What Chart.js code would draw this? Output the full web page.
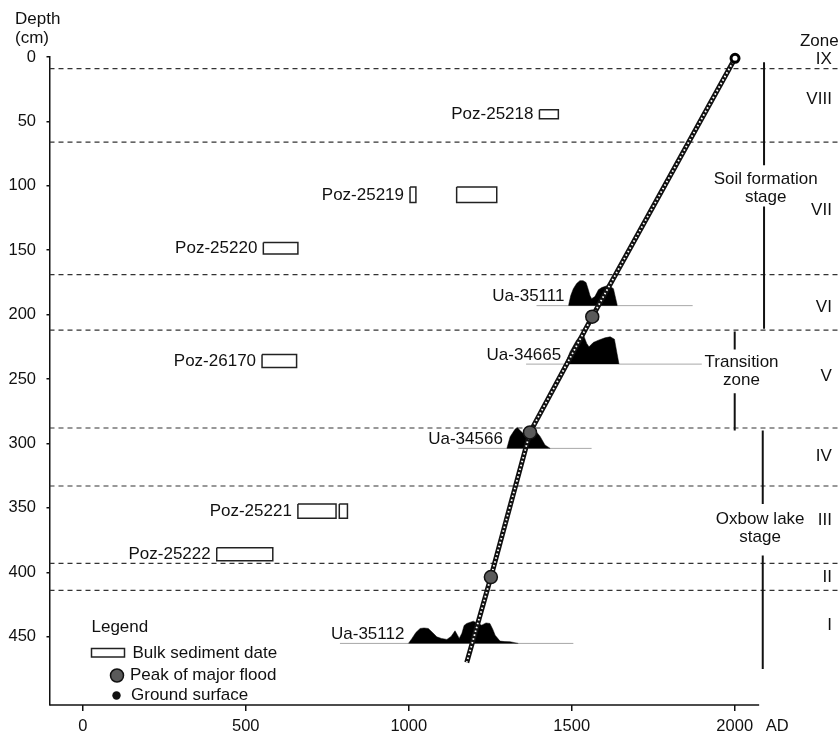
<!DOCTYPE html>
<html>
<head>
<meta charset="utf-8">
<script src="https://cdn.jsdelivr.net/npm/chart.js@4.4.1/dist/chart.umd.min.js"></script>
<style>
  html, body { margin: 0; padding: 0; background: #fff; overflow: hidden; }
  canvas { display: block; }
</style>
</head>
<body>
<canvas id="depthChart" width="840" height="734"></canvas>
<script>
// axes (x = calendar year AD, y = depth in cm)
const X_MIN = -102, X_MAX = 2323, X_AXIS_END = 2075;
const Y_MIN = 0, Y_MAX = 503;
const xTicks = [0, 500, 1000, 1500, 2000];
const xUnitLabel = 'AD', xUnitAt = 2130;
const yTicks = [0, 50, 100, 150, 200, 250, 300, 350, 400, 450];

// zone boundaries and zone names
const zoneBounds = [9, 66, 169, 212, 288, 333, 393, 414];
const zoneNames = ['IX', 'VIII', 'VII', 'VI', 'V', 'IV', 'III', 'II', 'I'];
const zoneCentres = [2, 33, 119, 194, 248, 310, 360, 404, 441];

// stages on the right
const stageNames = [['Soil formation', 'stage'], ['Transition', 'zone'], ['Oxbow lake', 'stage']];
const stageYear = [2090, 2000, 2086];
const stageSpans = [[[4, 84], [116, 211]], [[213, 227], [261, 290]], [[290, 347], [387, 475]]];
const stageTextYear = [2095, 2021, 2078];
const stageTextDepth = [102, 244, 366];

// bulk sediment dates (year ranges, depth top/bottom)
const bulkNames = ['Poz-25218', 'Poz-25219', 'Poz-25220', 'Poz-26170', 'Poz-25221', 'Poz-25222'];
const bulkRanges = [[[1401, 1459]], [[1004, 1022], [1147, 1270]], [[554, 660]], [[550, 656]], [[660, 777], [787, 812]], [[411, 583]]];
const bulkDepths = [[41, 48], [101, 113], [144, 153], [231, 241], [347, 358], [381, 391]];

// calibrated AMS dates: baseline depth, baseline span, probability curve (cm above baseline)
const amsNames = ['Ua-35111', 'Ua-34665', 'Ua-34566', 'Ua-35112'];
const amsBase = [193, 238.4, 303.8, 455.2];
const amsSpan = [[1392, 1871], [1360, 1899], [1152, 1561], [789, 1505]];
const amsYears = [
  [1490, 1497, 1505, 1515, 1525, 1535, 1544, 1551, 1556, 1561, 1571, 1582, 1592, 1601, 1609, 1618, 1628, 1635, 1640],
  [1480, 1495, 1515, 1534, 1546, 1553, 1566, 1582, 1602, 1618, 1631, 1638, 1645],
  [1301, 1311, 1326, 1333, 1344, 1357, 1372, 1387, 1403, 1418, 1434],
  [999, 1010, 1022, 1035, 1047, 1060, 1073, 1086, 1100, 1117, 1130, 1142, 1150, 1155, 1163, 1170, 1178, 1198, 1212, 1224, 1237, 1249, 1258, 1265, 1280, 1295, 1311, 1325, 1336]
];
const amsProb = [
  [0, 7.8, 13.2, 17.1, 19.4, 19.4, 17.9, 12.4, 7.8, 5.4, 7, 12.4, 14, 14.8, 15.5, 14.8, 13.2, 5.4, 0],
  [0, 9.6, 18.6, 23.8, 16.1, 13.4, 16.8, 18.6, 20.4, 21.2, 19.4, 9.6, 0],
  [0, 9, 14.8, 16.3, 13.2, 10.1, 13.2, 14.2, 9.3, 2.6, 0],
  [0, 3.9, 8.5, 11.6, 12, 11.6, 8.5, 5.1, 3.9, 3.1, 5.4, 9.8, 6.2, 3.9, 7.8, 14, 15.5, 17.3, 15.5, 14.2, 15.9, 15.5, 10.9, 6.4, 1.8, 1.4, 1.3, 0.6, 0]
];

// floods, age-depth line, ground surface
const floodYears = [1563, 1372, 1252];
const floodDepths = [201.6, 291.4, 403.7];
const modelYears = [2001, 1563, 1372, 1252, 1178];
const modelDepths = [1, 201.6, 291.4, 403.7, 470];
const groundYear = 2001, groundDepth = 1;

const FONT = '17px "Liberation Sans", Arial, sans-serif';
const INK = '#111';

function seg(data, opts) {
  return Object.assign({ data, pointRadius: 0, tension: 0, fill: false, borderWidth: 1, borderColor: INK }, opts);
}

const datasets = [];

// floods and ground surface on top
datasets.push({
  data: floodYears.map((v, i) => ({ x: v, y: floodDepths[i] })),
  showLine: false, pointRadius: 6.5, pointBackgroundColor: '#5a5a5a',
  pointBorderColor: INK, pointBorderWidth: 1.5, order: 0, clip: false
});
datasets.push({
  data: [{ x: groundYear, y: groundDepth }],
  showLine: false, pointRadius: 4, pointBackgroundColor: '#fff',
  pointBorderColor: '#000', pointBorderWidth: 3, order: 0, clip: false
});
// age-depth model: black band with white ladder dashes
const modelPts = modelYears.map((v, i) => ({ x: v, y: modelDepths[i] }));
datasets.push(seg(modelPts, { borderWidth: 1.8, borderDash: [1.6, 2.4], borderColor: '#fff', order: 1, clip: false }));
datasets.push(seg(modelPts, { borderWidth: 5, borderColor: '#111', order: 1.5, clip: false }));

// bulk sediment rectangles
bulkRanges.forEach((ranges, i) => {
  const [top, bot] = bulkDepths[i];
  ranges.forEach(([a, b]) => {
    datasets.push(seg([
      { x: a, y: top }, { x: b, y: top }, { x: b, y: bot }, { x: a, y: bot }, { x: a, y: top }
    ], { borderWidth: 1.5, borderColor: '#222', order: 2 }));
  });
});

// AMS probability curves and baselines
amsNames.forEach((n, i) => {
  datasets.push(seg(amsYears[i].map((v, k) => ({ x: v, y: amsBase[i] - amsProb[i][k] })),
    { fill: { value: amsBase[i] }, backgroundColor: '#000', borderColor: '#000', borderWidth: 0.5, order: 3 }));
  datasets.push(seg(amsSpan[i].map(v => ({ x: v, y: amsBase[i] })),
    { borderColor: '#a8a8a8', borderWidth: 1, order: 4 }));
});

// stage bars
stageSpans.forEach((spans, i) => {
  spans.forEach(([a, b]) => {
    datasets.push(seg([{ x: stageYear[i], y: a }, { x: stageYear[i], y: b }],
      { borderWidth: 2, order: 5 }));
  });
});

// zone boundaries
zoneBounds.forEach(d => {
  datasets.push(seg([{ x: X_MIN, y: d }, { x: X_MAX, y: d }],
    { borderColor: '#333', borderWidth: 1.2, borderDash: [5, 4], order: 6 }));
});

const annotations = {
  id: 'annotations',
  afterDraw(chart) {
    const { ctx, chartArea: area, scales: { x, y } } = chart;
    ctx.save();
    // bottom axis stops short of the zone column
    ctx.strokeStyle = INK;
    ctx.lineWidth = 1.5;
    ctx.beginPath();
    ctx.moveTo(area.left, area.bottom);
    ctx.lineTo(x.getPixelForValue(X_AXIS_END), area.bottom);
    ctx.stroke();

    ctx.fillStyle = INK;
    ctx.font = FONT;
    ctx.textBaseline = 'middle';

    // y-axis title
    ctx.textAlign = 'left';
    ctx.fillText('Depth', area.left - 34.5, area.top - 38);
    ctx.fillText('(cm)', area.left - 34.5, area.top - 19);

    // sample labels
    ctx.textAlign = 'right';
    bulkNames.forEach((n, i) => {
      const [top, bot] = bulkDepths[i];
      ctx.fillText(n, x.getPixelForValue(bulkRanges[i][0][0]) - 6, y.getPixelForValue((top + bot) / 2));
    });
    amsNames.forEach((n, i) => {
      ctx.fillText(n, x.getPixelForValue(amsYears[i][0]) - 4, y.getPixelForValue(amsBase[i]) - 9);
    });

    // zone names
    ctx.fillText('Zone', x.getPixelForValue(2319), y.getPixelForValue(-12));
    zoneNames.forEach((n, i) => ctx.fillText(n, x.getPixelForValue(2298), y.getPixelForValue(zoneCentres[i])));

    // stage names
    ctx.textAlign = 'center';
    stageNames.forEach((lines, i) => {
      const cx = x.getPixelForValue(stageTextYear[i]);
      const cy = y.getPixelForValue(stageTextDepth[i]);
      ctx.fillText(lines[0], cx, cy - 9);
      ctx.fillText(lines[1], cx, cy + 9);
    });

    // legend (lower left)
    const lx = area.left + 42, by = area.bottom;
    ctx.textAlign = 'left';
    ctx.fillText('Legend', lx, by - 78);
    ctx.lineWidth = 1.5;
    ctx.strokeStyle = '#222';
    ctx.strokeRect(lx, by - 56.5, 33, 8.5);
    ctx.fillText('Bulk sediment date', lx + 41, by - 52);
    ctx.beginPath();
    ctx.arc(lx + 25.5, by - 29.5, 6.5, 0, Math.PI * 2);
    ctx.fillStyle = '#5a5a5a';
    ctx.fill();
    ctx.strokeStyle = INK;
    ctx.stroke();
    ctx.fillStyle = INK;
    ctx.fillText('Peak of major flood', lx + 38.5, by - 29.5);
    ctx.beginPath();
    ctx.arc(lx + 25, by - 9.5, 4.2, 0, Math.PI * 2);
    ctx.fill();
    ctx.fillText('Ground surface', lx + 39.5, by - 10);
    ctx.restore();
  }
};

new Chart(document.getElementById('depthChart'), {
  type: 'line',
  data: { datasets },
  options: {
    responsive: false,
    devicePixelRatio: 1,
    animation: false,
    events: [],
    layout: { autoPadding: false, padding: { top: 57, right: 0, left: 0, bottom: 0 } },
    plugins: { legend: { display: false }, tooltip: { enabled: false } },
    scales: {
      x: {
        type: 'linear',
        min: X_MIN,
        max: X_MAX,
        afterBuildTicks: s => { s.ticks = xTicks.concat([xUnitAt]).map(v => ({ value: v })); },
        afterFit: s => { s.height = 29; s.paddingLeft = 0; s.paddingRight = 0; },
        border: { display: false },
        grid: {
          drawOnChartArea: false,
          tickLength: 6,
          lineWidth: 1.5,
          tickColor: c => (c.tick && c.tick.value === xUnitAt ? 'rgba(0,0,0,0)' : INK)
        },
        ticks: {
          autoSkip: false,
          maxRotation: 0,
          padding: 6,
          color: INK,
          font: { family: '"Liberation Sans", Arial, sans-serif', size: 16.5 },
          callback: v => (v === xUnitAt ? xUnitLabel : v)
        }
      },
      y: {
        type: 'linear',
        reverse: true,
        min: Y_MIN,
        max: Y_MAX,
        afterBuildTicks: s => { s.ticks = yTicks.map(v => ({ value: v })); },
        afterFit: s => { s.width = 49.5; },
        border: { display: true, color: INK, width: 1.5 },
        grid: { drawOnChartArea: false, tickLength: 3, lineWidth: 1.5, tickColor: INK },
        ticks: {
          padding: 10.5,
          color: INK,
          font: { family: '"Liberation Sans", Arial, sans-serif', size: 16.5 }
        }
      }
    }
  },
  plugins: [annotations]
});
</script>
</body>
</html>
